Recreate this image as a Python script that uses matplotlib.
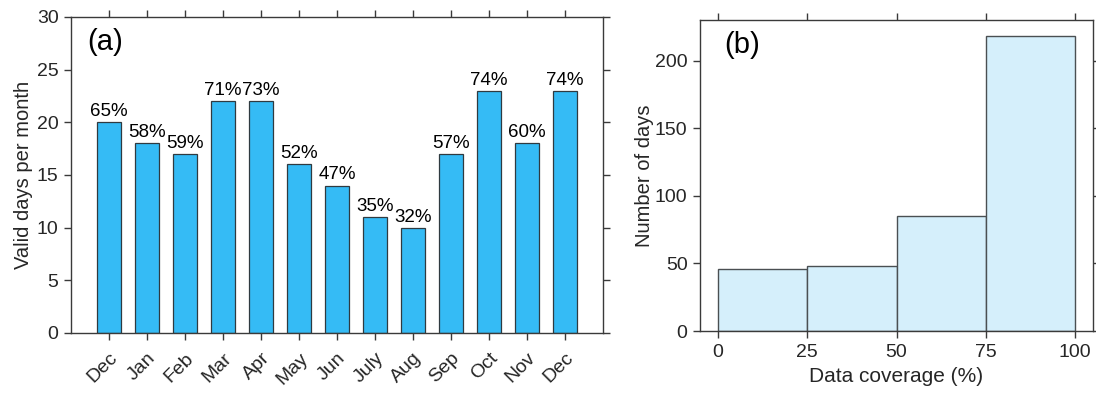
import matplotlib.pyplot as plt
import numpy as np

plt.rcParams['font.family'] = ['Liberation Sans', 'DejaVu Sans']

# panel (a): valid days per month and coverage percentage
months = ["Dec", "Jan", "Feb", "Mar", "Apr", "May", "Jun", "July", "Aug", "Sep", "Oct", "Nov", "Dec"]
valid_days = [20, 18, 17, 22, 22, 16, 14, 11, 10, 17, 23, 18, 23]
coverage_pct = [65, 58, 59, 71, 73, 52, 47, 35, 32, 57, 74, 60, 74]

# panel (b): histogram of daily data coverage
bin_edges = [0, 25, 50, 75, 100]
bin_counts = [46, 48, 85, 218]

line_col = "#3a3a3a"
text_col = "#262626"

fig = plt.figure(figsize=(10.96, 3.95), dpi=100)
ax1 = fig.add_axes([0.0648, 0.157, 0.4854, 0.800])
ax2 = fig.add_axes([0.6387, 0.162, 0.3586, 0.787])

def style_axes(ax):
    for s in ax.spines.values():
        s.set_color(line_col)
        s.set_linewidth(1.0)
    ax.tick_params(direction='out', length=5, width=1.0, color=line_col,
                   labelcolor=text_col, labelsize=14, pad=4,
                   top=True, right=True, labeltop=False, labelright=False)

# (a) bar chart
x = np.arange(1, len(months) + 1)
ax1.bar(x, valid_days, width=0.62, color="#35bbf5", edgecolor="#2f3a40", linewidth=0.9)
for xi, v, p in zip(x, valid_days, coverage_pct):
    ax1.annotate(f"{p}%", (xi, v), xytext=(0, 1.5), textcoords="offset points",
                 ha="center", va="bottom", fontsize=13.5, color="black")
ax1.set_xlim(0, 14)
ax1.set_ylim(0, 30)
ax1.set_yticks(range(0, 31, 5))
ax1.set_xticks(x)
ax1.set_xticklabels(months, rotation=45, ha="right", rotation_mode="anchor")
ax1.set_ylabel("Valid days per month", fontsize=14.5, color=text_col, labelpad=3)
ax1.text(0.03, 0.92, "(a)", transform=ax1.transAxes, fontsize=21, ha="left", va="center")
style_axes(ax1)
ax1.tick_params(axis='x', pad=7)

# (b) histogram
for lo, hi, c in zip(bin_edges[:-1], bin_edges[1:], bin_counts):
    ax2.bar(lo, c, width=hi - lo, align="edge", facecolor="#d5effb",
            edgecolor="#4a4f52", linewidth=1.0)
ax2.set_xlim(-5, 105)
ax2.set_ylim(0, 230)
ax2.set_xticks(bin_edges)
ax2.set_yticks(range(0, 201, 50))
ax2.set_xlabel("Data coverage (%)", fontsize=15, color=text_col, labelpad=5)
ax2.set_ylabel("Number of days", fontsize=14.5, color=text_col, labelpad=1)
ax2.text(0.061, 0.92, "(b)", transform=ax2.transAxes, fontsize=21, ha="left", va="center")
style_axes(ax2)

fig.savefig("out.png", dpi=100)
